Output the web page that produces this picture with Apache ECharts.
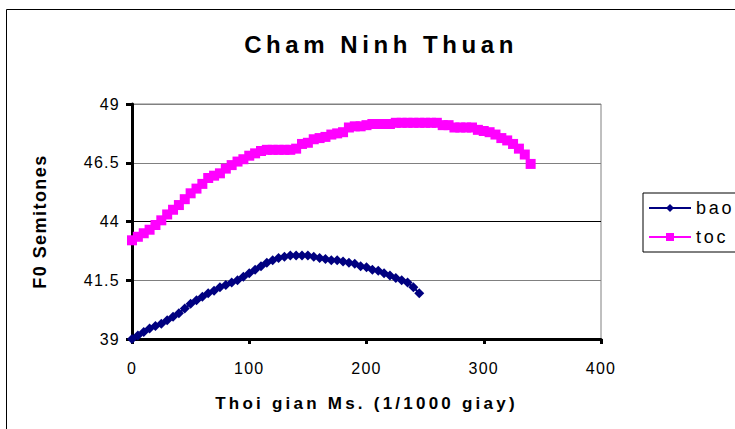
<!DOCTYPE html>
<html><head><meta charset="utf-8">
<script src="https://cdn.jsdelivr.net/npm/echarts@6/dist/echarts.min.js"></script>
<style>
html,body{margin:0;padding:0;background:#fff;}
#c{width:735px;height:429px;}
#c text{letter-spacing:0.08em;}
#c text[style*="18px"]{letter-spacing:0.15em;}
#c text[style*="bold"]{letter-spacing:0.19em;}
#c text[style*="bold"][style*="18px"]{letter-spacing:0.08em;}
#c text[style*="24px"]{letter-spacing:0.19em;}
</style></head><body><div id="c"></div>
<script>
const chartTitle = 'Cham Ninh Thuan';
const xName = 'Thoi gian Ms. (1/1000 giay)';
const yName = 'F0 Semitones';
const seriesNames = ['bao', 'toc'];

const baoTime = [0,5,10,15,20,25,30,35,40,45,50,55,60,65,70,75,80,85,90,95,100,105,110,115,120,125,130,135,140,145,150,155,160,165,170,175,180,185,190,195,200,205,210,215,220,225,230,235,240,245];
const baoF0 = [39.0,39.15,39.3,39.45,39.55,39.65,39.8,39.95,40.1,40.3,
  40.5,40.65,40.8,40.95,41.05,41.2,41.3,41.4,41.5,41.65,
  41.8,41.95,42.1,42.25,42.35,42.45,42.5,42.55,42.55,42.55,
  42.55,42.5,42.45,42.4,42.35,42.35,42.3,42.25,42.2,42.1,
  42.05,41.95,41.9,41.8,41.7,41.6,41.5,41.4,41.2,40.95];

const tocTime = [0,5,10,15,20,25,30,35,40,45,50,55,60,65,70,75,80,85,90,95,100,105,110,115,120,125,130,135,140,145,150,155,160,165,170,175,180,185,190,195,200,205,210,215,220,225,230,235,240,245,250,255,260,265,270,275,280,285,290,295,300,305,310,315,320,325,330,335,340];
const tocF0 = [43.2,43.35,43.5,43.65,43.85,44.05,44.3,44.5,44.7,44.95,
  45.2,45.4,45.6,45.85,45.95,46.05,46.25,46.4,46.55,46.65,
  46.8,46.9,47.0,47.05,47.05,47.05,47.05,47.05,47.1,47.3,
  47.35,47.5,47.55,47.6,47.7,47.75,47.8,48.0,48.05,48.05,
  48.1,48.15,48.15,48.15,48.15,48.2,48.2,48.2,48.2,48.2,
  48.2,48.2,48.2,48.1,48.1,48.0,48.0,48.0,48.0,47.9,
  47.85,47.8,47.7,47.55,47.45,47.3,47.1,46.85,46.45];

const xTicks = {min: 0, max: 400, interval: 100};
const yTicks = {min: 39, max: 49, interval: 2.5};

const FONT = 'Liberation Sans, Arial, sans-serif';
const pairs = (xs, ys) => xs.map((x, i) => [x, ys[i]]);

const chart = echarts.init(document.getElementById('c'), null, {renderer: 'svg'});
chart.setOption({
  animation: false,
  backgroundColor: '#ffffff',
  title: {
    text: chartTitle, left: 376, textAlign: 'center', top: 27,
    textStyle: {fontFamily: FONT, fontSize: 24, fontWeight: 'bold', color: '#000'}
  },
  graphic: [{
    type: 'rect', shape: {x: 6.5, y: 9.5, width: 800, height: 500},
    style: {fill: 'none', stroke: '#000', lineWidth: 1}, silent: true, z: -1
  }],
  legend: {
    orient: 'vertical', left: 643, top: 193,
    data: seriesNames,
    itemWidth: 42, itemHeight: 10, itemGap: 11,
    padding: [6, 30, 6, 5],
    borderColor: '#000', borderWidth: 1,
    textStyle: {fontFamily: FONT, fontSize: 18, color: '#000', padding: [0, 0, 0, 0]}
  },
  grid: {left: 132, right: 134, top: 104, bottom: 90, show: true, borderColor: '#808080', borderWidth: 1},
  xAxis: {
    type: 'value', min: xTicks.min, max: xTicks.max, interval: xTicks.interval,
    name: xName, nameLocation: 'middle', nameGap: 56,
    nameTextStyle: {fontFamily: FONT, fontSize: 17, fontWeight: 'bold', color: '#000'},
    axisLine: {show: true, onZero: false, lineStyle: {color: '#000', width: 3}},
    axisTick: {show: true, length: 5, lineStyle: {color: '#000', width: 3}},
    axisLabel: {fontFamily: FONT, fontSize: 16, color: '#000', margin: 21},
    splitLine: {show: false}
  },
  yAxis: {
    type: 'value', min: yTicks.min, max: yTicks.max, interval: yTicks.interval,
    name: yName, nameLocation: 'middle', nameGap: 83,
    nameTextStyle: {fontFamily: FONT, fontSize: 18, fontWeight: 'bold', color: '#000'},
    axisLine: {show: true, onZero: false, lineStyle: {color: '#000', width: 3}},
    axisTick: {show: true, length: 6, lineStyle: {color: '#000', width: 3}},
    axisLabel: {fontFamily: FONT, fontSize: 16, color: '#000', margin: 12},
    splitLine: {show: true, lineStyle: {color: ['#808080', '#808080', '#000000', '#808080', '#808080'], width: 1}}
  },
  series: [
    {
      name: seriesNames[0], type: 'line', data: pairs(baoTime, baoF0),
      symbol: 'diamond', symbolSize: 10, showAllSymbol: true,
      itemStyle: {color: '#000080'}, lineStyle: {color: '#000080', width: 2}
    },
    {
      name: seriesNames[1], type: 'line', data: pairs(tocTime, tocF0),
      symbol: 'rect', symbolSize: 10, showAllSymbol: true,
      itemStyle: {color: '#ff00ff'}, lineStyle: {color: '#ff00ff', width: 2}
    }
  ]
});
</script></body></html>
